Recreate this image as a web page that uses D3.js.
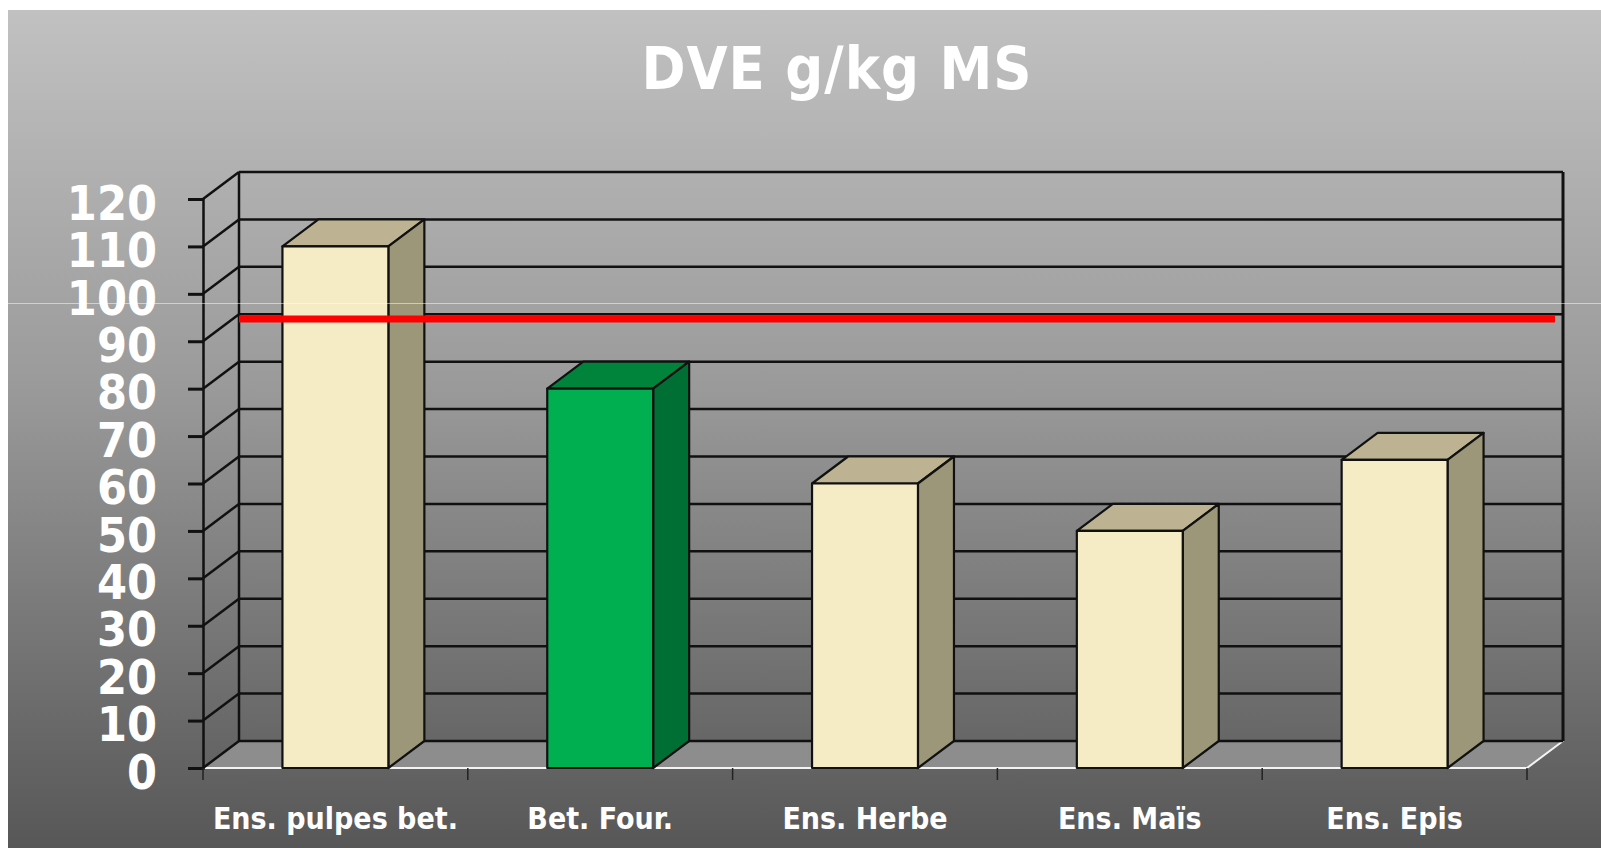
<!DOCTYPE html>
<html>
<head>
<meta charset="utf-8">
<script src="https://cdn.jsdelivr.net/npm/d3@7"></script>
<style>
body { margin: 0; background: #fff; }
svg { display: block; }
</style>
</head>
<body>
<script>
var categories = ["Ens. pulpes bet.", "Bet. Four.", "Ens. Herbe", "Ens. Maïs", "Ens. Epis"];
var values = [110, 80, 60, 50, 65];
var highlight = [false, true, false, false, false];
var yTicks = [0, 10, 20, 30, 40, 50, 60, 70, 80, 90, 100, 110, 120];
var refValue = 89;
var title = "DVE g/kg MS";

var W = 1601, H = 848;
var font = "'DejaVu Sans Condensed', 'DejaVu Sans', sans-serif";
var dx = 36, dy = -27;

var svg = d3.select("body").append("svg").attr("width", W).attr("height", H);

var defs = svg.append("defs");
var grad = defs.append("linearGradient").attr("id", "bg").attr("x1", 0).attr("y1", 0).attr("x2", 0).attr("y2", 1);
grad.append("stop").attr("offset", "0%").attr("stop-color", "#c1c1c1");
grad.append("stop").attr("offset", "45%").attr("stop-color", "#9a9a9a");
grad.append("stop").attr("offset", "100%").attr("stop-color", "#575757");

svg.append("rect").attr("x", 8).attr("y", 10).attr("width", W - 8).attr("height", H - 10).attr("fill", "url(#bg)");

var x = d3.scaleBand().domain(categories).range([203, 1527]).paddingInner(0.6).paddingOuter(0.3);
var y = d3.scaleLinear().domain([0, 120]).range([768, 199]);
var x0 = 203, x1 = 1527;

// floor
svg.append("path")
.attr("d", "M" + x0 + "," + y(0) + "L" + x1 + "," + y(0) + "L" + (x1 + dx) + "," + (y(0) + dy) + "L" + (x0 + dx) + "," + (y(0) + dy) + "Z")
.attr("fill", "#8d8d8d");
svg.append("path")
.attr("d", "M" + x0 + "," + y(0) + "L" + x1 + "," + y(0) + "L" + (x1 + dx) + "," + (y(0) + dy))
.attr("fill", "none").attr("stroke", "#f4f4f4").attr("stroke-width", 2);

// back wall gridlines
svg.selectAll("line.grid").data(yTicks).enter().append("line")
.attr("class", "grid")
.attr("x1", x0 + dx).attr("x2", x1 + dx)
.attr("y1", function(d){ return y(d) + dy; })
.attr("y2", function(d){ return y(d) + dy; })
.attr("stroke", "#111").attr("stroke-width", 2.5);

// side wall gridlines
svg.selectAll("line.side").data(yTicks).enter().append("line")
.attr("class", "side")
.attr("x1", x0).attr("x2", x0 + dx)
.attr("y1", function(d){ return y(d); })
.attr("y2", function(d){ return y(d) + dy; })
.attr("stroke", "#111").attr("stroke-width", 2.5);

svg.append("line").attr("x1", x0 + dx).attr("x2", x0 + dx).attr("y1", y(0) + dy).attr("y2", y(120) + dy).attr("stroke", "#111").attr("stroke-width", 2.5);
svg.append("line").attr("x1", x1 + dx).attr("x2", x1 + dx).attr("y1", y(0) + dy).attr("y2", y(120) + dy).attr("stroke", "#111").attr("stroke-width", 3);

// y axis
var yAxis = svg.append("g").attr("transform", "translate(" + x0 + ",0)")
.call(d3.axisLeft(y).tickValues(yTicks).tickSize(15).tickPadding(31));
yAxis.select(".domain").attr("stroke", "#111").attr("stroke-width", 2.5);
yAxis.selectAll(".tick line").attr("stroke", "#111").attr("stroke-width", 3);
yAxis.selectAll(".tick text")
.attr("fill", "#fff").attr("font-family", font).attr("font-weight", "bold").attr("font-size", 48)
.attr("dy", "0.42em");

// category ticks
var bounds = categories.map(function(c){ return x(c) - x.step() * x.paddingInner() / 2; }).concat([x1]);
bounds[0] = x0;
svg.selectAll("line.ctick").data(bounds).enter().append("line")
.attr("class", "ctick")
.attr("x1", function(d){ return d; }).attr("x2", function(d){ return d; })
.attr("y1", y(0)).attr("y2", y(0) + 12)
.attr("stroke", "#222").attr("stroke-width", 1.5);

// bars
var bars = svg.selectAll("g.bar").data(values).enter().append("g").attr("class", "bar");
function face(pts) { return "M" + pts.map(function(p){ return p.join(","); }).join("L") + "Z"; }
bars.append("path")
.attr("d", function(d, i){ var l = x(categories[i]), r = l + x.bandwidth(), t = y(d);
  return face([[l, t], [l + dx, t + dy], [r + dx, t + dy], [r, t]]); })
.attr("fill", function(d, i){ return highlight[i] ? "#00843c" : "#bdb393"; });
bars.append("path")
.attr("d", function(d, i){ var r = x(categories[i]) + x.bandwidth(), t = y(d), b = y(0);
  return face([[r, t], [r + dx, t + dy], [r + dx, b + dy], [r, b]]); })
.attr("fill", function(d, i){ return highlight[i] ? "#006f33" : "#9c9778"; });
bars.append("rect")
.attr("x", function(d, i){ return x(categories[i]); })
.attr("y", function(d){ return y(d); })
.attr("width", x.bandwidth())
.attr("height", function(d){ return y(0) - y(d); })
.attr("fill", function(d, i){ return highlight[i] ? "#00b050" : "#f5ebc4"; });
bars.selectAll("path, rect").attr("stroke", "#111").attr("stroke-width", 2.2).attr("stroke-linejoin", "round");

// category labels
svg.selectAll("text.cat").data(categories).enter().append("text")
.attr("class", "cat")
.attr("x", function(d){ return x(d) + x.bandwidth() / 2; })
.attr("y", 829)
.attr("text-anchor", "middle")
.attr("fill", "#fff").attr("font-family", font).attr("font-weight", "bold").attr("font-size", 30)
.text(function(d){ return d; });

// reference line
svg.append("line")
.attr("x1", x0 + dx).attr("x2", 1555)
.attr("y1", y(refValue) + dy).attr("y2", y(refValue) + dy)
.attr("stroke", "#ff0000").attr("stroke-width", 7);

// title
svg.append("text")
.attr("x", 837).attr("y", 89)
.attr("text-anchor", "middle")
.attr("fill", "#fff").attr("font-family", font).attr("font-weight", "bold").attr("font-size", 59)
.attr("letter-spacing", 1)
.text(title);

// faint light line across the slide
svg.append("line").attr("x1", 0).attr("x2", W).attr("y1", 303.5).attr("y2", 303.5)
.attr("stroke", "#fff").attr("stroke-opacity", 0.5).attr("stroke-width", 1);
</script>
</body>
</html>
